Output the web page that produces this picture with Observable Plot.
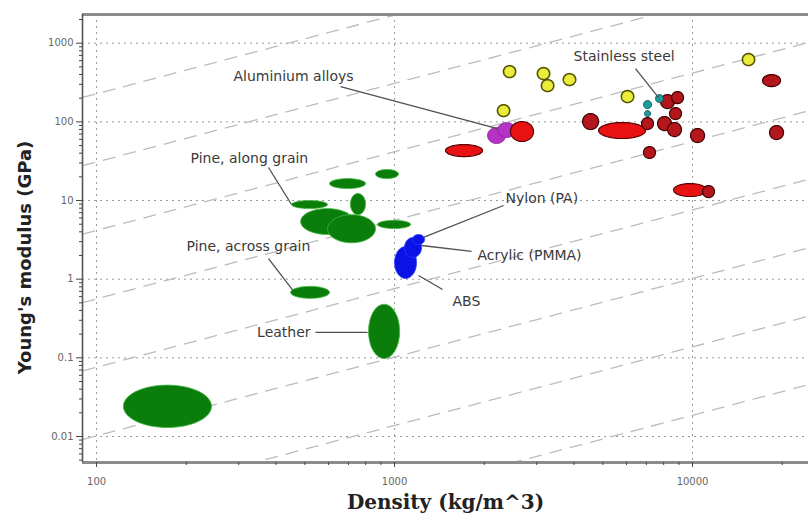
<!DOCTYPE html>
<html><head><meta charset="utf-8">
<script src="https://cdn.jsdelivr.net/npm/d3@7"></script>
<script src="https://cdn.jsdelivr.net/npm/@observablehq/plot@0.6"></script>
<style>html,body{margin:0;padding:0;background:#fff}#chart svg{display:block}</style>
</head><body><div id="chart"></div>
<script>
// ---------- data ----------
const materialName = ["Foam","Leather","Pine, across grain","Pine, along grain","Wood 1","Wood 2","Wood 3","Wood 4","Wood 5","Wood 6",
  "ABS","Acrylic (PMMA)","Nylon (PA)","Aluminium alloy 1","Aluminium alloy 2",
  "Magnesium alloys","Titanium alloys","Zinc alloys","Lead alloys",
  "Metal 1","Metal 2","Metal 3","Metal 4","Metal 5","Metal 6","Metal 7","Metal 8","Metal 9","Metal 10","Metal 11","Metal 12",
  "Stainless steel 1","Stainless steel 2","Stainless steel 3",
  "Ceramic 1","Ceramic 2","Ceramic 3","Ceramic 4","Ceramic 5","Ceramic 6","Ceramic 7"];
const materialGroup = ["natural","natural","natural","natural","natural","natural","natural","natural","natural","natural",
  "polymer","polymer","polymer","aluminium","aluminium",
  "metal","metal","metal","metal",
  "metalDark","metalDark","metalDark","metalDark","metalDark","metalDark","metalDark","metalDark","metalDark","metalDark","metalDark","metalDark",
  "stainless","stainless","stainless",
  "ceramic","ceramic","ceramic","ceramic","ceramic","ceramic","ceramic"];
const rhoLow  = [123, 818, 448, 451, 484, 596, 711, 605, 863, 877,
  1000, 1080, 1149, 2051, 2216,
  1483, 2449, 4838, 8636,
  4276, 6745, 7630, 8370, 8244, 7808, 8501, 9847, 6848, 17174, 18131, 10805,
  6848, 7512, 6900,
  2320, 3015, 3110, 3683, 2215, 5770, 14700];
const rhoHigh = [243, 1040, 605, 596, 729, 863, 799, 799, 1031, 1132,
  1185, 1232, 1261, 2358, 2547,
  1974, 2927, 6956, 11143,
  4838, 7396, 8501, 9183, 9183, 8701, 9329, 10974, 7512, 19741, 20205, 11850,
  7285, 7990, 7230,
  2549, 3316, 3422, 4054, 2434, 6348, 16160];
const modLow  = [0.013, 0.098, 0.57, 7.9, 3.7, 2.9, 6.6, 14.2, 19.0, 4.4,
  1.02, 1.89, 2.76, 53.0, 63.2,
  36.2, 56.3, 61.4, 11.24,
  79.9, 79.9, 77.5, 107, 65, 147.6, 170.8, 54.6, 34.2, 281, 59.6, 10.9,
  147.6, 176, 116.8,
  366, 345, 243, 290, 117, 176, 520];
const modHigh = [0.045, 0.48, 0.81, 10.0, 7.9, 6.6, 12.3, 19.0, 24.8, 5.6,
  2.60, 3.39, 3.70, 84.6, 98,
  51.5, 100.9, 98, 16.44,
  127.5, 113.4, 116.8, 152, 98, 222, 242.7, 82.2, 48.6, 399, 89.8, 15.5,
  186.5, 222, 139.2,
  518, 489, 344, 410, 165, 250, 737];

// guide lines E / rho = constant (GPa per kg/m^3)
const guideRatio = [2.275, 0.309, 0.0417, 0.00562, 0.000759, 0.000102, 0.0000138, 0.00000186];

// annotations
const labelText = ["Aluminium alloys","Stainless steel","Pine, along grain","Pine, across grain","Leather","Nylon (PA)","Acrylic (PMMA)","ABS"];
const labelRho  = [288, 3988, 206.8, 200.4, 522.6, 2358, 1898, 1565];
const labelMod  = [376, 675, 34.2, 2.60, 0.2104, 10.6, 2.0, 0.521];
const labelAnchor = ["start","start","start","start","end","start","start","start"];
const leaderFromRho = [659, 6437, 377.6, 377.6, 543, 2322, 1813, 1449];
const leaderFromMod = [281, 475.6, 26.3, 1.83, 0.2104, 8.64, 2.25, 0.74];
const leaderToRho   = [2216, 7691, 451, 454.6, 812, 1251, 1232, 1204];
const leaderToMod   = [82.2, 203.6, 8.9, 0.731, 0.2104, 3.39, 2.68, 1.114];

// axes
const xTicks = [100, 1000, 10000];
const xTickLabels = ["100", "1000", "10000"];
const xMinorTicks = [200,300,400,500,600,700,800,900,2000,3000,4000,5000,6000,7000,8000,9000,20000];
const yTicks = [0.01, 0.1, 1, 10, 100, 1000];
const yTickLabels = ["0.01", "0.1", "1", "10", "100", "1000"];
const yMinorTicks = [0.005,0.006,0.007,0.008,0.009,0.02,0.03,0.04,0.05,0.06,0.07,0.08,0.09,0.2,0.3,0.4,0.5,0.6,0.7,0.8,0.9,
  2,3,4,5,6,7,8,9,20,30,40,50,60,70,80,90,200,300,400,500,600,700,800,900,2000];
const xTitle = "Density (kg/m^3)";
const yTitle = "Young's modulus (GPa)";

// ---------- build ----------
const xDomain = [89.7, 24500];
const yDomain = [0.00467, 2317];

const shapes = [];
materialName.forEach((name, i) => {
  const a = Math.log10(rhoLow[i]), b = Math.log10(rhoHigh[i]);
  const c = Math.log10(modLow[i]), d = Math.log10(modHigh[i]);
  const cx = (a + b) / 2, rx = (b - a) / 2, cy = (c + d) / 2, ry = (d - c) / 2;
  for (let k = 0; k < 64; k++) {
    const t = 2 * Math.PI * k / 64;
    shapes.push({id: i, name, group: materialGroup[i], rho: 10 ** (cx + rx * Math.cos(t)), E: 10 ** (cy + ry * Math.sin(t))});
  }
});

const styles = {
  natural:   {fill: "#0a7d0a", stroke: "#40b840", strokeWidth: 0.8},
  polymer:   {fill: "#0a12e6", stroke: "#2a3cff", strokeWidth: 0.8},
  aluminium: {fill: "#b432c4", stroke: "#8a1e9a", strokeWidth: 0.8},
  metal:     {fill: "#e81212", stroke: "#5a0000", strokeWidth: 1.2},
  metalDark: {fill: "#b3161b", stroke: "#420000", strokeWidth: 1.2},
  stainless: {fill: "#1c9c9c", stroke: "#0a5050", strokeWidth: 1},
  ceramic:   {fill: "#ecec3c", stroke: "#555500", strokeWidth: 1.6}
};
const groupOrder = ["natural","polymer","aluminium","metal","metalDark","stainless","ceramic"];

const guides = guideRatio.map(c => ({x1: xDomain[0], y1: c * xDomain[0], x2: xDomain[1], y2: c * xDomain[1]}));
const labels = labelText.map((t, i) => ({t, rho: labelRho[i], E: labelMod[i], anchor: labelAnchor[i]}));
const leaders = labelText.map((t, i) => ({x1: leaderFromRho[i], y1: leaderFromMod[i], x2: leaderToRho[i], y2: leaderToMod[i]}));
const labelStyle = {x: "rho", y: "E", text: "t", fontSize: 14, fill: "#3a3a3a", fontFamily: "DejaVu Sans"};

const chart = Plot.plot({
  width: 808,
  height: 521,
  marginLeft: 82,
  marginRight: 0,
  marginTop: 14,
  marginBottom: 59,
  style: {background: "#fff", fontFamily: "DejaVu Sans"},
  x: {type: "log", domain: xDomain, axis: null},
  y: {type: "log", domain: yDomain, axis: null},
  marks: [
    Plot.gridX({ticks: xTicks, stroke: "#999", strokeOpacity: 1, strokeDasharray: "2,4"}),
    Plot.gridY({ticks: yTicks, stroke: "#999", strokeOpacity: 1, strokeDasharray: "2,4"}),
    Plot.link(guides, {x1: "x1", y1: "y1", x2: "x2", y2: "y2", stroke: "#bcbcbc", strokeWidth: 1.3, strokeDasharray: "13,8", clip: true}),
    ...groupOrder.map(g => Plot.line(shapes.filter(d => d.group === g), {x: "rho", y: "E", z: "id", curve: "linear-closed", clip: true, ...styles[g]})),
    Plot.link(leaders, {x1: "x1", y1: "y1", x2: "x2", y2: "y2", stroke: "#505050", strokeWidth: 1.3}),
    Plot.text(labels.filter(d => d.anchor === "start"), {...labelStyle, textAnchor: "start"}),
    Plot.text(labels.filter(d => d.anchor === "end"), {...labelStyle, textAnchor: "end"}),
    Plot.ruleY([yDomain[1]], {stroke: "#8c8c8c", strokeWidth: 3}),
    Plot.ruleY([yDomain[0]], {stroke: "#8c8c8c", strokeWidth: 3}),
    Plot.ruleX([xDomain[0]], {stroke: "#555", strokeWidth: 1.6}),
    Plot.axisX({ticks: xMinorTicks, tickSize: 3, tickFormat: () => "", stroke: "#444"}),
    Plot.axisX({ticks: xTicks, tickSize: 5, tickPadding: 10, tickFormat: d => xTickLabels[xTicks.indexOf(d)], fontSize: 10, fill: "#666", stroke: "#444"}),
    Plot.axisY({ticks: yMinorTicks, tickSize: 3, tickFormat: () => "", stroke: "#444"}),
    Plot.axisY({ticks: yTicks, tickSize: 6, tickPadding: 3, tickFormat: d => yTickLabels[yTicks.indexOf(d)], fontSize: 10, fill: "#666", stroke: "#444"}),
    Plot.text([xTitle], {frameAnchor: "bottom", dy: 46, text: d => d, textAnchor: "middle", fontSize: 20, fontWeight: "bold", fontFamily: "DejaVu Serif", fill: "#222"}),
    Plot.text([yTitle], {frameAnchor: "left", dx: -57, dy: 19, rotate: -90, text: d => d, textAnchor: "middle", fontSize: 18, fontWeight: "bold", fontFamily: "DejaVu Sans", fill: "#222"})
  ]
});
document.getElementById("chart").appendChild(chart);
</script>
</body></html>
